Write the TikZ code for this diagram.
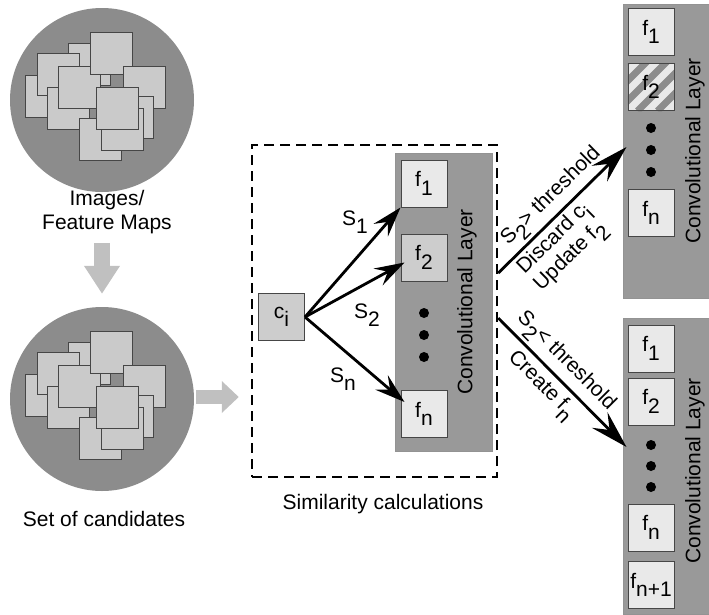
\documentclass[tikz,border=0pt]{standalone}
\usepackage{fontspec}
\setmainfont{Liberation Sans}
\usetikzlibrary{arrows.meta}
\usetikzlibrary{positioning}
\usetikzlibrary{calc}

\definecolor{circgray}{RGB}{140,140,140}
\definecolor{layergray}{RGB}{153,153,153}
\definecolor{boxlight}{RGB}{233,233,233}
\definecolor{boxmid}{RGB}{205,205,205}
\definecolor{mapfill}{RGB}{202,202,202}
\definecolor{blockgray}{RGB}{192,192,192}
\definecolor{edgegray}{RGB}{70,70,70}
\definecolor{stripegray}{RGB}{140,140,140}

\newcommand{\lowr}[1]{\raisebox{-0.4em}{#1}}

\tikzset{
  txt/.style={font=\fontsize{21}{24}\selectfont, inner sep=0pt},
  mapcircle/.style={circle, fill=circgray, minimum size=184pt, inner sep=0pt},
  mapsquare/.style={fill=mapfill, draw=edgegray, line width=1pt},
  fbox/.style={txt, rectangle, draw=edgegray, fill=boxlight, line width=1pt,
    minimum width=46pt, minimum height=47pt},
  layer/.style={rectangle, fill=layergray, draw=gray!85, line width=1pt, inner sep=0pt},
  simframe/.style={rectangle, draw=black, line width=2.5pt, dash pattern=on 10pt off 6pt,
    minimum width=245pt, minimum height=332pt, inner sep=0pt},
  flow/.style={-{Stealth[length=30pt,width=19pt,inset=11pt]}, line width=2.8pt},
  bigflow/.style={-{Stealth[length=38pt,width=22pt,inset=14pt]}, line width=2.8pt},
  downblock/.style={draw=blockgray, line width=16pt, -{Triangle[length=28pt,width=34pt]}},
  rightblock/.style={draw=blockgray, line width=14pt, -{Triangle[length=17pt,width=31pt]}}
}

\begin{document}
\begin{tikzpicture}[x=1pt, y=-1pt]
  \path[use as bounding box, fill=white] (0,0) rectangle (709,614);

  \node[mapcircle] (img) at (102,100) {};
  \node[mapcircle] (cand) at (102,399) {};
  \foreach \cc in {img, cand}{
    \begin{scope}[shift={(\cc.center)}]
      \foreach \dx/\dy in {-77/-25, -34/-57, -65/-47, -55/-13, -44/-34, -12/-68,
                           21/-34, 9/-4, -23/18, -1/8, -6/-13}{
        \draw[mapsquare] (\dx,\dy) rectangle ++(42,42);
      }
    \end{scope}
  }
  \node[txt, align=center] (imglabel) at (107,212) {Images/\\Feature Maps};
  \node[txt] (candlabel) at (104,519) {Set of candidates};
  \draw[downblock] ($(cand.north |- imglabel.south)+(0,9)$) -- ($(cand.north)+(0,-13)$);

  \node[simframe] (simbox) at (374.5,311) {};
  \node[txt] (simlabel) at (383,504) {Similarity calculations};
  \draw[rightblock] ($(cand.east)+(2,-2)$) -- ($(simbox.west |- cand.east)+(-12,-2)$);

  \node[layer, minimum width=97pt, minimum height=298pt] (convmid) at (443.5,302) {};
  \node[txt, rotate=90] (convmidlabel) at (467,302) {Convolutional Layer};
  \node[fbox] (fa1) at (424,183.5) {f\lowr{1}};
  \node[fbox, fill=boxmid] (fa2) at (424,257.5) {f\lowr{2}};
  \node[fbox] (fan) at (424,414) {f\lowr{n}};
  \foreach \y in {313,335,357}
    \fill (424,\y) circle (5pt);

  \node[fbox, fill=boxmid] (ci) at (281.5,317) {c\lowr{i}};
  \draw[flow] (ci.east) -- (fa1.south west);
  \draw[flow] (ci.east) -- ($(fa2.west)+(4,5)$);
  \draw[flow] (ci.east) -- ($(fan.north west)+(4,12)$);
  \node[txt] (s1) at (355,222) {S\lowr{1}};
  \node[txt] (s2) at (367,315) {S\lowr{2}};
  \node[txt] (sn) at (343,379) {S\lowr{n}};

  \node[layer, minimum width=86pt, minimum height=294pt] (convtop) at (666,151) {};
  \node[txt, rotate=90] (convtoplabel) at (695,151) {Convolutional Layer};
  \node[fbox] (fb1) at (651,32) {f\lowr{1}};
  \node[fbox] (fb2) at (651,87) {};
  \begin{scope}
    \clip (fb2.south west) rectangle (fb2.north east);
    \foreach \k in {-70,-50,...,50}
      \draw[line width=7pt, stripegray] ($(fb2.south west)+(\k,0)$) -- ++(70,-70);
  \end{scope}
  \node[fbox, fill=none] (fb2t) at (fb2.center) {f\lowr{2}};
  \node[fbox] (fbn) at (651,213) {f\lowr{n}};
  \foreach \y in {128,150,172}
    \fill (651,\y) circle (5pt);

  \node[layer, minimum width=86pt, minimum height=296pt] (convbot) at (666,466) {};
  \node[txt, rotate=90] (convbotlabel) at (695,471) {Convolutional Layer};
  \node[fbox] (fc1) at (651,348.5) {f\lowr{1}};
  \node[fbox] (fc2) at (651,401.5) {f\lowr{2}};
  \foreach \y in {445,466,487}
    \fill (651,\y) circle (5pt);
  \node[fbox] (fcn) at (651,527.5) {f\lowr{n}};
  \node[fbox] (fcm) at (651,585) {f\lowr{n+1}};

  \draw[bigflow] ($(simbox.east)+(0,-38)$) --
    node[txt, sloped, above=3pt, pos=0.51] {S\lowr{2}> threshold}
    node[txt, sloped, below=3pt, anchor=north west, pos=0.09, align=left] {Discard c\lowr{i}\\Update f\lowr{2}}
    ($(convtop.west)+(4,-4)$);
  \draw[bigflow] ($(simbox.east)+(0,7)$) --
    node[txt, sloped, above=3pt, pos=0.43] {S\lowr{2}< threshold}
    node[txt, sloped, below=5pt, pos=0.43] {Create f\lowr{n}}
    ($(convbot.west)+(4,-19)$);
\end{tikzpicture}
\end{document}
